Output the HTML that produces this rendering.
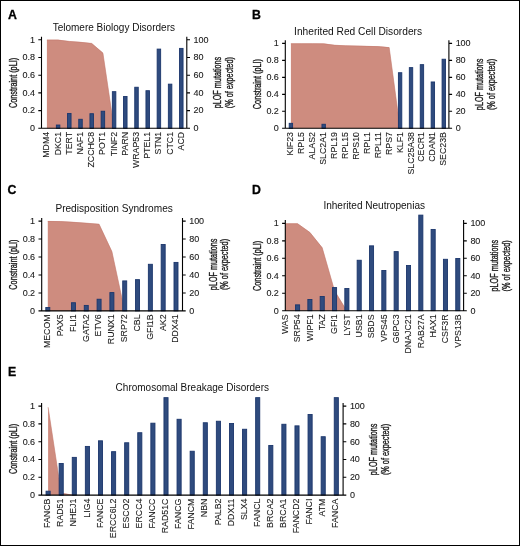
<!DOCTYPE html>
<html><head><meta charset="utf-8"><style>
html,body{margin:0;padding:0;background:#fff;}
svg{display:block;will-change:transform;}
text{font-family:"Liberation Sans", sans-serif;fill:#1a1a1a;stroke:#1a1a1a;stroke-width:0.1px;}
.t{font-size:9.0px;letter-spacing:-0.1px;}
.x{font-size:8.8px;}
.ti{font-size:10.0px;stroke-width:0;fill:#111;}
.le{font-size:12.3px;font-weight:bold;fill:#000;stroke:#000;stroke-width:0.3px;}
.yl{font-size:10.3px;stroke-width:0.35px;}
</style></head><body>
<svg width="520" height="546" viewBox="0 0 520 546">
<rect x="0.5" y="0.5" width="519" height="545" fill="#fff" stroke="#000" stroke-width="1"/>
<polygon fill="#ce8c7f" points="46.9,128.3 46.9,39.8 58.1,39.8 69.3,41.13 80.5,42.01 91.7,43.16 102.9,52.81 114.1,128.3 125.3,128.3 136.5,128.3 147.7,128.3 158.9,128.3 170.1,128.3 181.3,128.3 181.3,128.3"/>
<polyline fill="none" stroke="#c47b6e" stroke-width="0.6" points="46.9,40.1 58.1,40.1 69.3,41.43 80.5,42.31 91.7,43.46 102.9,53.11 114.1,128.6"/>
<rect fill="#2f4b7e" stroke="#1b366c" stroke-width="0.9" x="56.35" y="125.03" width="3.5" height="3.27"/>
<rect fill="#2f4b7e" stroke="#1b366c" stroke-width="0.9" x="67.55" y="113.44" width="3.5" height="14.86"/>
<rect fill="#2f4b7e" stroke="#1b366c" stroke-width="0.9" x="78.75" y="119.28" width="3.5" height="9.02"/>
<rect fill="#2f4b7e" stroke="#1b366c" stroke-width="0.9" x="89.95" y="113.71" width="3.5" height="14.6"/>
<rect fill="#2f4b7e" stroke="#1b366c" stroke-width="0.9" x="101.15" y="111.23" width="3.5" height="17.07"/>
<rect fill="#2f4b7e" stroke="#1b366c" stroke-width="0.9" x="112.35" y="91.67" width="3.5" height="36.63"/>
<rect fill="#2f4b7e" stroke="#1b366c" stroke-width="0.9" x="123.55" y="96.45" width="3.5" height="31.85"/>
<rect fill="#2f4b7e" stroke="#1b366c" stroke-width="0.9" x="134.75" y="87.24" width="3.5" height="41.06"/>
<rect fill="#2f4b7e" stroke="#1b366c" stroke-width="0.9" x="145.95" y="90.7" width="3.5" height="37.61"/>
<rect fill="#2f4b7e" stroke="#1b366c" stroke-width="0.9" x="157.15" y="49.1" width="3.5" height="79.2"/>
<rect fill="#2f4b7e" stroke="#1b366c" stroke-width="0.9" x="168.35" y="84.15" width="3.5" height="44.15"/>
<rect fill="#2f4b7e" stroke="#1b366c" stroke-width="0.9" x="179.55" y="48.39" width="3.5" height="79.91"/>
<path stroke="#000" stroke-width="1.1" fill="none" d="M41.5,36.8V128.3M186.8,36.8V128.3M38.3,128.3H190M38.3,110.6H41.5M186.8,110.6H190M38.3,92.9H41.5M186.8,92.9H190M38.3,75.2H41.5M186.8,75.2H190M38.3,57.5H41.5M186.8,57.5H190M38.3,39.8H41.5M186.8,39.8H190"/>
<text class="t" transform="translate(34.8,131.1) scale(1,1.0)" text-anchor="end">0</text>
<text class="t" transform="translate(193.6,131.1) scale(1,1.0)">0</text>
<text class="t" transform="translate(34.8,113.4) scale(1,1.0)" text-anchor="end">0.2</text>
<text class="t" transform="translate(193.6,113.4) scale(1,1.0)">20</text>
<text class="t" transform="translate(34.8,95.7) scale(1,1.0)" text-anchor="end">0.4</text>
<text class="t" transform="translate(193.6,95.7) scale(1,1.0)">40</text>
<text class="t" transform="translate(34.8,78) scale(1,1.0)" text-anchor="end">0.6</text>
<text class="t" transform="translate(193.6,78) scale(1,1.0)">60</text>
<text class="t" transform="translate(34.8,60.3) scale(1,1.0)" text-anchor="end">0.8</text>
<text class="t" transform="translate(193.6,60.3) scale(1,1.0)">80</text>
<text class="t" transform="translate(34.8,42.6) scale(1,1.0)" text-anchor="end">1</text>
<text class="t" transform="translate(193.6,42.6) scale(1,1.0)">100</text>
<text class="x" transform="translate(49.3,131.9) rotate(-90) scale(1,1.05)" text-anchor="end">MDM4</text>
<text class="x" transform="translate(60.5,131.9) rotate(-90) scale(1,1.05)" text-anchor="end">DKC1</text>
<text class="x" transform="translate(71.7,131.9) rotate(-90) scale(1,1.05)" text-anchor="end">TERT</text>
<text class="x" transform="translate(82.9,131.9) rotate(-90) scale(1,1.05)" text-anchor="end">NAF1</text>
<text class="x" transform="translate(94.1,131.9) rotate(-90) scale(1,1.05)" text-anchor="end">ZCCHC8</text>
<text class="x" transform="translate(105.3,131.9) rotate(-90) scale(1,1.05)" text-anchor="end">POT1</text>
<text class="x" transform="translate(116.5,131.9) rotate(-90) scale(1,1.05)" text-anchor="end">TINF2</text>
<text class="x" transform="translate(127.7,131.9) rotate(-90) scale(1,1.05)" text-anchor="end">PARN</text>
<text class="x" transform="translate(138.9,131.9) rotate(-90) scale(1,1.05)" text-anchor="end">WRAP53</text>
<text class="x" transform="translate(150.1,131.9) rotate(-90) scale(1,1.05)" text-anchor="end">PTEL1</text>
<text class="x" transform="translate(161.3,131.9) rotate(-90) scale(1,1.05)" text-anchor="end">STN1</text>
<text class="x" transform="translate(172.5,131.9) rotate(-90) scale(1,1.05)" text-anchor="end">CTC1</text>
<text class="x" transform="translate(183.7,131.9) rotate(-90) scale(1,1.05)" text-anchor="end">ACD</text>
<text class="ti" x="52.7" y="31" style="font-size:10px">Telomere Biology Disorders</text>
<text class="le" x="7.9" y="18.6">A</text>
<text class="yl" transform="translate(16.8,82.95) rotate(-90)" text-anchor="middle" textLength="50.2" lengthAdjust="spacingAndGlyphs">Constraint (pLI)</text>
<text class="yl" transform="translate(220.6,82.55) rotate(-90)" text-anchor="middle" textLength="51.6" lengthAdjust="spacingAndGlyphs">pLOF mutations</text>
<text class="yl" transform="translate(232.7,82.7) rotate(-90)" text-anchor="middle" textLength="51.2" lengthAdjust="spacingAndGlyphs">(% of expected)</text>
<polygon fill="#ce8c7f" points="290.9,128.3 290.9,43.4 301.82,43.4 312.74,43.4 323.66,43.57 334.58,44.93 345.5,45.52 356.42,45.78 367.34,46.03 378.26,46.37 389.18,47.31 400.1,128.3 411.02,128.3 421.94,128.3 432.86,128.3 443.78,128.3 443.78,128.3"/>
<polyline fill="none" stroke="#c47b6e" stroke-width="0.6" points="290.9,43.7 301.82,43.7 312.74,43.7 323.66,43.87 334.58,45.23 345.5,45.82 356.42,46.08 367.34,46.33 378.26,46.67 389.18,47.61 400.1,128.6"/>
<rect fill="#2f4b7e" stroke="#1b366c" stroke-width="0.9" x="289.2" y="123.32" width="3.4" height="4.98"/>
<rect fill="#2f4b7e" stroke="#1b366c" stroke-width="0.9" x="321.96" y="124.25" width="3.4" height="4.05"/>
<rect fill="#2f4b7e" stroke="#1b366c" stroke-width="0.9" x="398.4" y="72.72" width="3.4" height="55.58"/>
<rect fill="#2f4b7e" stroke="#1b366c" stroke-width="0.9" x="409.32" y="67.62" width="3.4" height="60.68"/>
<rect fill="#2f4b7e" stroke="#1b366c" stroke-width="0.9" x="420.24" y="64.65" width="3.4" height="63.65"/>
<rect fill="#2f4b7e" stroke="#1b366c" stroke-width="0.9" x="431.16" y="81.97" width="3.4" height="46.33"/>
<rect fill="#2f4b7e" stroke="#1b366c" stroke-width="0.9" x="442.08" y="59.22" width="3.4" height="69.08"/>
<path stroke="#000" stroke-width="1.1" fill="none" d="M285.3,40.2V128.3M448.9,40.2V128.3M282.1,128.3H452.1M282.1,111.32H285.3M448.9,111.32H452.1M282.1,94.34H285.3M448.9,94.34H452.1M282.1,77.36H285.3M448.9,77.36H452.1M282.1,60.38H285.3M448.9,60.38H452.1M282.1,43.4H285.3M448.9,43.4H452.1"/>
<text class="t" transform="translate(278.6,131.1) scale(1,1.0)" text-anchor="end">0</text>
<text class="t" transform="translate(455.7,131.1) scale(1,1.0)">0</text>
<text class="t" transform="translate(278.6,114.12) scale(1,1.0)" text-anchor="end">0.2</text>
<text class="t" transform="translate(455.7,114.12) scale(1,1.0)">20</text>
<text class="t" transform="translate(278.6,97.14) scale(1,1.0)" text-anchor="end">0.4</text>
<text class="t" transform="translate(455.7,97.14) scale(1,1.0)">40</text>
<text class="t" transform="translate(278.6,80.16) scale(1,1.0)" text-anchor="end">0.6</text>
<text class="t" transform="translate(455.7,80.16) scale(1,1.0)">60</text>
<text class="t" transform="translate(278.6,63.18) scale(1,1.0)" text-anchor="end">0.8</text>
<text class="t" transform="translate(455.7,63.18) scale(1,1.0)">80</text>
<text class="t" transform="translate(278.6,46.2) scale(1,1.0)" text-anchor="end">1</text>
<text class="t" transform="translate(455.7,46.2) scale(1,1.0)">100</text>
<text class="x" transform="translate(293.4,132) rotate(-90) scale(1,1.05)" text-anchor="end">KIF23</text>
<text class="x" transform="translate(304.32,132) rotate(-90) scale(1,1.05)" text-anchor="end">RPL5</text>
<text class="x" transform="translate(315.24,132) rotate(-90) scale(1,1.05)" text-anchor="end">ALAS2</text>
<text class="x" transform="translate(326.16,132) rotate(-90) scale(1,1.05)" text-anchor="end">SLC2A1</text>
<text class="x" transform="translate(337.08,132) rotate(-90) scale(1,1.05)" text-anchor="end">RPL19</text>
<text class="x" transform="translate(348,132) rotate(-90) scale(1,1.05)" text-anchor="end">RPL15</text>
<text class="x" transform="translate(358.92,132) rotate(-90) scale(1,1.05)" text-anchor="end">RPS10</text>
<text class="x" transform="translate(369.84,132) rotate(-90) scale(1,1.05)" text-anchor="end">RPL1</text>
<text class="x" transform="translate(380.76,132) rotate(-90) scale(1,1.05)" text-anchor="end">RPL11</text>
<text class="x" transform="translate(391.68,132) rotate(-90) scale(1,1.05)" text-anchor="end">RPS7</text>
<text class="x" transform="translate(402.6,132) rotate(-90) scale(1,1.05)" text-anchor="end">KLF1</text>
<text class="x" transform="translate(413.52,132) rotate(-90) scale(1,1.05)" text-anchor="end">SLC25A38</text>
<text class="x" transform="translate(424.44,132) rotate(-90) scale(1,1.05)" text-anchor="end">CECR1</text>
<text class="x" transform="translate(435.36,132) rotate(-90) scale(1,1.05)" text-anchor="end">CDAN1</text>
<text class="x" transform="translate(446.28,132) rotate(-90) scale(1,1.05)" text-anchor="end">SEC23B</text>
<text class="ti" x="294.1" y="34.6" style="font-size:10.2px">Inherited Red Cell Disorders</text>
<text class="le" x="252.1" y="18.8">B</text>
<text class="yl" transform="translate(260.8,84.05) rotate(-90)" text-anchor="middle" textLength="50.2" lengthAdjust="spacingAndGlyphs">Constraint (pLI)</text>
<text class="yl" transform="translate(482.6,84.35) rotate(-90)" text-anchor="middle" textLength="51.6" lengthAdjust="spacingAndGlyphs">pLOF mutations</text>
<text class="yl" transform="translate(494.9,84.5) rotate(-90)" text-anchor="middle" textLength="51.2" lengthAdjust="spacingAndGlyphs">(% of expected)</text>
<polygon fill="#ce8c7f" points="47.8,310.9 47.8,221.1 60.62,221.28 73.44,222 86.26,222.9 99.08,223.97 111.9,251.36 124.72,310.9 137.54,310.9 150.36,310.9 163.18,310.9 176,310.9 176,310.9"/>
<polyline fill="none" stroke="#c47b6e" stroke-width="0.6" points="47.8,221.4 60.62,221.58 73.44,222.3 86.26,223.2 99.08,224.27 111.9,251.66 124.72,311.2"/>
<rect fill="#2f4b7e" stroke="#1b366c" stroke-width="0.9" x="45.8" y="307.49" width="4" height="3.41"/>
<rect fill="#2f4b7e" stroke="#1b366c" stroke-width="0.9" x="71.44" y="302.73" width="4" height="8.17"/>
<rect fill="#2f4b7e" stroke="#1b366c" stroke-width="0.9" x="84.26" y="305.42" width="4" height="5.48"/>
<rect fill="#2f4b7e" stroke="#1b366c" stroke-width="0.9" x="97.08" y="299.23" width="4" height="11.67"/>
<rect fill="#2f4b7e" stroke="#1b366c" stroke-width="0.9" x="109.9" y="292.58" width="4" height="18.32"/>
<rect fill="#2f4b7e" stroke="#1b366c" stroke-width="0.9" x="122.72" y="280.91" width="4" height="29.99"/>
<rect fill="#2f4b7e" stroke="#1b366c" stroke-width="0.9" x="135.54" y="279.65" width="4" height="31.25"/>
<rect fill="#2f4b7e" stroke="#1b366c" stroke-width="0.9" x="148.36" y="264.29" width="4" height="46.61"/>
<rect fill="#2f4b7e" stroke="#1b366c" stroke-width="0.9" x="161.18" y="244.54" width="4" height="66.36"/>
<rect fill="#2f4b7e" stroke="#1b366c" stroke-width="0.9" x="174" y="262.41" width="4" height="48.49"/>
<path stroke="#000" stroke-width="1.1" fill="none" d="M41.7,218.1V310.9M182.5,218.1V310.9M38.5,310.9H185.7M38.5,292.94H41.7M182.5,292.94H185.7M38.5,274.98H41.7M182.5,274.98H185.7M38.5,257.02H41.7M182.5,257.02H185.7M38.5,239.06H41.7M182.5,239.06H185.7M38.5,221.1H41.7M182.5,221.1H185.7"/>
<text class="t" transform="translate(35,313.7) scale(1,1.0)" text-anchor="end">0</text>
<text class="t" transform="translate(189.3,313.7) scale(1,1.0)">0</text>
<text class="t" transform="translate(35,295.74) scale(1,1.0)" text-anchor="end">0.2</text>
<text class="t" transform="translate(189.3,295.74) scale(1,1.0)">20</text>
<text class="t" transform="translate(35,277.78) scale(1,1.0)" text-anchor="end">0.4</text>
<text class="t" transform="translate(189.3,277.78) scale(1,1.0)">40</text>
<text class="t" transform="translate(35,259.82) scale(1,1.0)" text-anchor="end">0.6</text>
<text class="t" transform="translate(189.3,259.82) scale(1,1.0)">60</text>
<text class="t" transform="translate(35,241.86) scale(1,1.0)" text-anchor="end">0.8</text>
<text class="t" transform="translate(189.3,241.86) scale(1,1.0)">80</text>
<text class="t" transform="translate(35,223.9) scale(1,1.0)" text-anchor="end">1</text>
<text class="t" transform="translate(189.3,223.9) scale(1,1.0)">100</text>
<text class="x" transform="translate(50.2,314.4) rotate(-90) scale(1,1.05)" text-anchor="end">MECOM</text>
<text class="x" transform="translate(63.02,314.4) rotate(-90) scale(1,1.05)" text-anchor="end">PAX5</text>
<text class="x" transform="translate(75.84,314.4) rotate(-90) scale(1,1.05)" text-anchor="end">FLI1</text>
<text class="x" transform="translate(88.66,314.4) rotate(-90) scale(1,1.05)" text-anchor="end">GATA2</text>
<text class="x" transform="translate(101.48,314.4) rotate(-90) scale(1,1.05)" text-anchor="end">ETV6</text>
<text class="x" transform="translate(114.3,314.4) rotate(-90) scale(1,1.05)" text-anchor="end">RUNX1</text>
<text class="x" transform="translate(127.12,314.4) rotate(-90) scale(1,1.05)" text-anchor="end">SRP72</text>
<text class="x" transform="translate(139.94,314.4) rotate(-90) scale(1,1.05)" text-anchor="end">CBL</text>
<text class="x" transform="translate(152.76,314.4) rotate(-90) scale(1,1.05)" text-anchor="end">GFI1B</text>
<text class="x" transform="translate(165.58,314.4) rotate(-90) scale(1,1.05)" text-anchor="end">AK2</text>
<text class="x" transform="translate(178.4,314.4) rotate(-90) scale(1,1.05)" text-anchor="end">DDX41</text>
<text class="ti" x="55.4" y="212" style="font-size:10.12px">Predisposition Syndromes</text>
<text class="le" x="7.6" y="193.8">C</text>
<text class="yl" transform="translate(16.8,264.55) rotate(-90)" text-anchor="middle" textLength="50.2" lengthAdjust="spacingAndGlyphs">Constraint (pLI)</text>
<text class="yl" transform="translate(216.7,264.35) rotate(-90)" text-anchor="middle" textLength="51.6" lengthAdjust="spacingAndGlyphs">pLOF mutations</text>
<text class="yl" transform="translate(228.4,264.5) rotate(-90)" text-anchor="middle" textLength="51.2" lengthAdjust="spacingAndGlyphs">(% of expected)</text>
<polygon fill="#ce8c7f" points="285.25,310.7 285.25,223.4 297.57,223.4 309.9,232.22 322.23,247.58 334.55,290.62 346.88,310.7 359.2,310.7 371.52,310.7 383.85,310.7 396.18,310.7 408.5,310.7 420.82,310.7 433.15,310.7 445.48,310.7 457.8,310.7 457.8,310.7"/>
<polyline fill="none" stroke="#c47b6e" stroke-width="0.6" points="285.25,223.7 297.57,223.7 309.9,232.52 322.23,247.88 334.55,290.92 346.88,311"/>
<rect fill="#2f4b7e" stroke="#1b366c" stroke-width="0.9" x="295.52" y="304.86" width="4.1" height="5.84"/>
<rect fill="#2f4b7e" stroke="#1b366c" stroke-width="0.9" x="307.85" y="299.45" width="4.1" height="11.25"/>
<rect fill="#2f4b7e" stroke="#1b366c" stroke-width="0.9" x="320.18" y="296.48" width="4.1" height="14.22"/>
<rect fill="#2f4b7e" stroke="#1b366c" stroke-width="0.9" x="332.5" y="287.58" width="4.1" height="23.12"/>
<rect fill="#2f4b7e" stroke="#1b366c" stroke-width="0.9" x="344.82" y="288.54" width="4.1" height="22.16"/>
<rect fill="#2f4b7e" stroke="#1b366c" stroke-width="0.9" x="357.15" y="260.25" width="4.1" height="50.45"/>
<rect fill="#2f4b7e" stroke="#1b366c" stroke-width="0.9" x="369.47" y="245.85" width="4.1" height="64.85"/>
<rect fill="#2f4b7e" stroke="#1b366c" stroke-width="0.9" x="381.8" y="270.47" width="4.1" height="40.23"/>
<rect fill="#2f4b7e" stroke="#1b366c" stroke-width="0.9" x="394.12" y="251.61" width="4.1" height="59.09"/>
<rect fill="#2f4b7e" stroke="#1b366c" stroke-width="0.9" x="406.45" y="265.49" width="4.1" height="45.21"/>
<rect fill="#2f4b7e" stroke="#1b366c" stroke-width="0.9" x="418.77" y="215.12" width="4.1" height="95.58"/>
<rect fill="#2f4b7e" stroke="#1b366c" stroke-width="0.9" x="431.1" y="229.44" width="4.1" height="81.26"/>
<rect fill="#2f4b7e" stroke="#1b366c" stroke-width="0.9" x="443.43" y="259.29" width="4.1" height="51.41"/>
<rect fill="#2f4b7e" stroke="#1b366c" stroke-width="0.9" x="455.75" y="258.51" width="4.1" height="52.19"/>
<path stroke="#000" stroke-width="1.1" fill="none" d="M285.3,220.1V310.7M463.6,220.1V310.7M282.1,310.7H466.8M282.1,293.24H285.3M463.6,293.24H466.8M282.1,275.78H285.3M463.6,275.78H466.8M282.1,258.32H285.3M463.6,258.32H466.8M282.1,240.86H285.3M463.6,240.86H466.8M282.1,223.4H285.3M463.6,223.4H466.8"/>
<text class="t" transform="translate(278.6,313.5) scale(1,1.0)" text-anchor="end">0</text>
<text class="t" transform="translate(470.4,313.5) scale(1,1.0)">0</text>
<text class="t" transform="translate(278.6,296.04) scale(1,1.0)" text-anchor="end">0.2</text>
<text class="t" transform="translate(470.4,296.04) scale(1,1.0)">20</text>
<text class="t" transform="translate(278.6,278.58) scale(1,1.0)" text-anchor="end">0.4</text>
<text class="t" transform="translate(470.4,278.58) scale(1,1.0)">40</text>
<text class="t" transform="translate(278.6,261.12) scale(1,1.0)" text-anchor="end">0.6</text>
<text class="t" transform="translate(470.4,261.12) scale(1,1.0)">60</text>
<text class="t" transform="translate(278.6,243.66) scale(1,1.0)" text-anchor="end">0.8</text>
<text class="t" transform="translate(470.4,243.66) scale(1,1.0)">80</text>
<text class="t" transform="translate(278.6,226.2) scale(1,1.0)" text-anchor="end">1</text>
<text class="t" transform="translate(470.4,226.2) scale(1,1.0)">100</text>
<text class="x" transform="translate(288.05,314.4) rotate(-90) scale(1,1.05)" text-anchor="end">WAS</text>
<text class="x" transform="translate(300.37,314.4) rotate(-90) scale(1,1.05)" text-anchor="end">SRP54</text>
<text class="x" transform="translate(312.7,314.4) rotate(-90) scale(1,1.05)" text-anchor="end">WIPF1</text>
<text class="x" transform="translate(325.02,314.4) rotate(-90) scale(1,1.05)" text-anchor="end">TAZ</text>
<text class="x" transform="translate(337.35,314.4) rotate(-90) scale(1,1.05)" text-anchor="end">GFI1</text>
<text class="x" transform="translate(349.67,314.4) rotate(-90) scale(1,1.05)" text-anchor="end">LYST</text>
<text class="x" transform="translate(362,314.4) rotate(-90) scale(1,1.05)" text-anchor="end">USB1</text>
<text class="x" transform="translate(374.32,314.4) rotate(-90) scale(1,1.05)" text-anchor="end">SBDS</text>
<text class="x" transform="translate(386.65,314.4) rotate(-90) scale(1,1.05)" text-anchor="end">VPS45</text>
<text class="x" transform="translate(398.97,314.4) rotate(-90) scale(1,1.05)" text-anchor="end">G6PC3</text>
<text class="x" transform="translate(411.3,314.4) rotate(-90) scale(1,1.05)" text-anchor="end">DNAJC21</text>
<text class="x" transform="translate(423.62,314.4) rotate(-90) scale(1,1.05)" text-anchor="end">RAB27A</text>
<text class="x" transform="translate(435.95,314.4) rotate(-90) scale(1,1.05)" text-anchor="end">HAX1</text>
<text class="x" transform="translate(448.27,314.4) rotate(-90) scale(1,1.05)" text-anchor="end">CSF3R</text>
<text class="x" transform="translate(460.6,314.4) rotate(-90) scale(1,1.05)" text-anchor="end">VPS13B</text>
<text class="ti" x="323.4" y="209.1" style="font-size:10.05px">Inherited Neutropenias</text>
<text class="le" x="252.1" y="193.5">D</text>
<text class="yl" transform="translate(260.8,265.85) rotate(-90)" text-anchor="middle" textLength="50.2" lengthAdjust="spacingAndGlyphs">Constraint (pLI)</text>
<text class="yl" transform="translate(498,265.65) rotate(-90)" text-anchor="middle" textLength="51.6" lengthAdjust="spacingAndGlyphs">pLOF mutations</text>
<text class="yl" transform="translate(509.8,265.8) rotate(-90)" text-anchor="middle" textLength="51.2" lengthAdjust="spacingAndGlyphs">(% of expected)</text>
<polygon fill="#ce8c7f" points="48.1,495.1 48.1,406.99 61.2,492.88 74.3,495.1 87.4,495.1 100.5,495.1 113.6,495.1 126.7,495.1 139.8,495.1 152.9,495.1 166,495.1 179.1,495.1 192.2,495.1 205.3,495.1 218.4,495.1 231.5,495.1 244.6,495.1 257.7,495.1 270.8,495.1 283.9,495.1 297,495.1 310.1,495.1 323.2,495.1 336.3,495.1 336.3,495.1"/>
<polyline fill="none" stroke="#c47b6e" stroke-width="0.6" points="48.1,407.29 61.2,493.18 74.3,495.4"/>
<rect fill="#2f4b7e" stroke="#1b366c" stroke-width="0.9" x="46.05" y="491.19" width="4.1" height="3.91"/>
<rect fill="#2f4b7e" stroke="#1b366c" stroke-width="0.9" x="59.15" y="463.51" width="4.1" height="31.59"/>
<rect fill="#2f4b7e" stroke="#1b366c" stroke-width="0.9" x="72.25" y="457.37" width="4.1" height="37.73"/>
<rect fill="#2f4b7e" stroke="#1b366c" stroke-width="0.9" x="85.35" y="446.42" width="4.1" height="48.68"/>
<rect fill="#2f4b7e" stroke="#1b366c" stroke-width="0.9" x="98.45" y="440.81" width="4.1" height="54.28"/>
<rect fill="#2f4b7e" stroke="#1b366c" stroke-width="0.9" x="111.55" y="451.67" width="4.1" height="43.43"/>
<rect fill="#2f4b7e" stroke="#1b366c" stroke-width="0.9" x="124.65" y="442.77" width="4.1" height="52.33"/>
<rect fill="#2f4b7e" stroke="#1b366c" stroke-width="0.9" x="137.75" y="432.72" width="4.1" height="62.38"/>
<rect fill="#2f4b7e" stroke="#1b366c" stroke-width="0.9" x="150.85" y="423.19" width="4.1" height="71.91"/>
<rect fill="#2f4b7e" stroke="#1b366c" stroke-width="0.9" x="163.95" y="397.65" width="4.1" height="97.45"/>
<rect fill="#2f4b7e" stroke="#1b366c" stroke-width="0.9" x="177.05" y="419.28" width="4.1" height="75.82"/>
<rect fill="#2f4b7e" stroke="#1b366c" stroke-width="0.9" x="190.15" y="451.23" width="4.1" height="43.87"/>
<rect fill="#2f4b7e" stroke="#1b366c" stroke-width="0.9" x="203.25" y="422.75" width="4.1" height="72.35"/>
<rect fill="#2f4b7e" stroke="#1b366c" stroke-width="0.9" x="216.35" y="421.24" width="4.1" height="73.86"/>
<rect fill="#2f4b7e" stroke="#1b366c" stroke-width="0.9" x="229.45" y="423.55" width="4.1" height="71.55"/>
<rect fill="#2f4b7e" stroke="#1b366c" stroke-width="0.9" x="242.55" y="429.25" width="4.1" height="65.85"/>
<rect fill="#2f4b7e" stroke="#1b366c" stroke-width="0.9" x="255.65" y="397.65" width="4.1" height="97.45"/>
<rect fill="#2f4b7e" stroke="#1b366c" stroke-width="0.9" x="268.75" y="445.44" width="4.1" height="49.66"/>
<rect fill="#2f4b7e" stroke="#1b366c" stroke-width="0.9" x="281.85" y="424.26" width="4.1" height="70.84"/>
<rect fill="#2f4b7e" stroke="#1b366c" stroke-width="0.9" x="294.95" y="425.86" width="4.1" height="69.24"/>
<rect fill="#2f4b7e" stroke="#1b366c" stroke-width="0.9" x="308.05" y="414.47" width="4.1" height="80.63"/>
<rect fill="#2f4b7e" stroke="#1b366c" stroke-width="0.9" x="321.15" y="436.72" width="4.1" height="58.38"/>
<rect fill="#2f4b7e" stroke="#1b366c" stroke-width="0.9" x="334.25" y="397.65" width="4.1" height="97.45"/>
<path stroke="#000" stroke-width="1.1" fill="none" d="M41.6,403.1V495.1M343.1,403.1V495.1M38.4,495.1H346.3M38.4,477.3H41.6M343.1,477.3H346.3M38.4,459.5H41.6M343.1,459.5H346.3M38.4,441.7H41.6M343.1,441.7H346.3M38.4,423.9H41.6M343.1,423.9H346.3M38.4,406.1H41.6M343.1,406.1H346.3"/>
<text class="t" transform="translate(34.9,497.9) scale(1,1.0)" text-anchor="end">0</text>
<text class="t" transform="translate(349.9,497.9) scale(1,1.0)">0</text>
<text class="t" transform="translate(34.9,480.1) scale(1,1.0)" text-anchor="end">0.2</text>
<text class="t" transform="translate(349.9,480.1) scale(1,1.0)">20</text>
<text class="t" transform="translate(34.9,462.3) scale(1,1.0)" text-anchor="end">0.4</text>
<text class="t" transform="translate(349.9,462.3) scale(1,1.0)">40</text>
<text class="t" transform="translate(34.9,444.5) scale(1,1.0)" text-anchor="end">0.6</text>
<text class="t" transform="translate(349.9,444.5) scale(1,1.0)">60</text>
<text class="t" transform="translate(34.9,426.7) scale(1,1.0)" text-anchor="end">0.8</text>
<text class="t" transform="translate(349.9,426.7) scale(1,1.0)">80</text>
<text class="t" transform="translate(34.9,408.9) scale(1,1.0)" text-anchor="end">1</text>
<text class="t" transform="translate(349.9,408.9) scale(1,1.0)">100</text>
<text class="x" transform="translate(50.2,498.6) rotate(-90) scale(1,1.05)" text-anchor="end">FANCB</text>
<text class="x" transform="translate(63.3,498.6) rotate(-90) scale(1,1.05)" text-anchor="end">RAD51</text>
<text class="x" transform="translate(76.4,498.6) rotate(-90) scale(1,1.05)" text-anchor="end">NHEJ1</text>
<text class="x" transform="translate(89.5,498.6) rotate(-90) scale(1,1.05)" text-anchor="end">LIG4</text>
<text class="x" transform="translate(102.6,498.6) rotate(-90) scale(1,1.05)" text-anchor="end">FANCE</text>
<text class="x" transform="translate(115.7,498.6) rotate(-90) scale(1,1.05)" text-anchor="end">ERCC6L2</text>
<text class="x" transform="translate(128.8,498.6) rotate(-90) scale(1,1.05)" text-anchor="end">ESCO2</text>
<text class="x" transform="translate(141.9,498.6) rotate(-90) scale(1,1.05)" text-anchor="end">ERCC4</text>
<text class="x" transform="translate(155,498.6) rotate(-90) scale(1,1.05)" text-anchor="end">FANCC</text>
<text class="x" transform="translate(168.1,498.6) rotate(-90) scale(1,1.05)" text-anchor="end">RAD51C</text>
<text class="x" transform="translate(181.2,498.6) rotate(-90) scale(1,1.05)" text-anchor="end">FANCG</text>
<text class="x" transform="translate(194.3,498.6) rotate(-90) scale(1,1.05)" text-anchor="end">FANCM</text>
<text class="x" transform="translate(207.4,498.6) rotate(-90) scale(1,1.05)" text-anchor="end">NBN</text>
<text class="x" transform="translate(220.5,498.6) rotate(-90) scale(1,1.05)" text-anchor="end">PALB2</text>
<text class="x" transform="translate(233.6,498.6) rotate(-90) scale(1,1.05)" text-anchor="end">DDX11</text>
<text class="x" transform="translate(246.7,498.6) rotate(-90) scale(1,1.05)" text-anchor="end">SLX4</text>
<text class="x" transform="translate(259.8,498.6) rotate(-90) scale(1,1.05)" text-anchor="end">FANCL</text>
<text class="x" transform="translate(272.9,498.6) rotate(-90) scale(1,1.05)" text-anchor="end">BRCA2</text>
<text class="x" transform="translate(286,498.6) rotate(-90) scale(1,1.05)" text-anchor="end">BRCA1</text>
<text class="x" transform="translate(299.1,498.6) rotate(-90) scale(1,1.05)" text-anchor="end">FANCD2</text>
<text class="x" transform="translate(312.2,498.6) rotate(-90) scale(1,1.05)" text-anchor="end">FANCI</text>
<text class="x" transform="translate(325.3,498.6) rotate(-90) scale(1,1.05)" text-anchor="end">ATM</text>
<text class="x" transform="translate(338.4,498.6) rotate(-90) scale(1,1.05)" text-anchor="end">FANCA</text>
<text class="ti" x="115.6" y="391.4" style="font-size:10px">Chromosomal Breakage Disorders</text>
<text class="le" x="7.9" y="375.8">E</text>
<text class="yl" transform="translate(16.8,448.85) rotate(-90)" text-anchor="middle" textLength="50.2" lengthAdjust="spacingAndGlyphs">Constraint (pLI)</text>
<text class="yl" transform="translate(377.2,449.35) rotate(-90)" text-anchor="middle" textLength="51.6" lengthAdjust="spacingAndGlyphs">pLOF mutations</text>
<text class="yl" transform="translate(388.7,449.5) rotate(-90)" text-anchor="middle" textLength="51.2" lengthAdjust="spacingAndGlyphs">(% of expected)</text>
</svg>
</body></html>
